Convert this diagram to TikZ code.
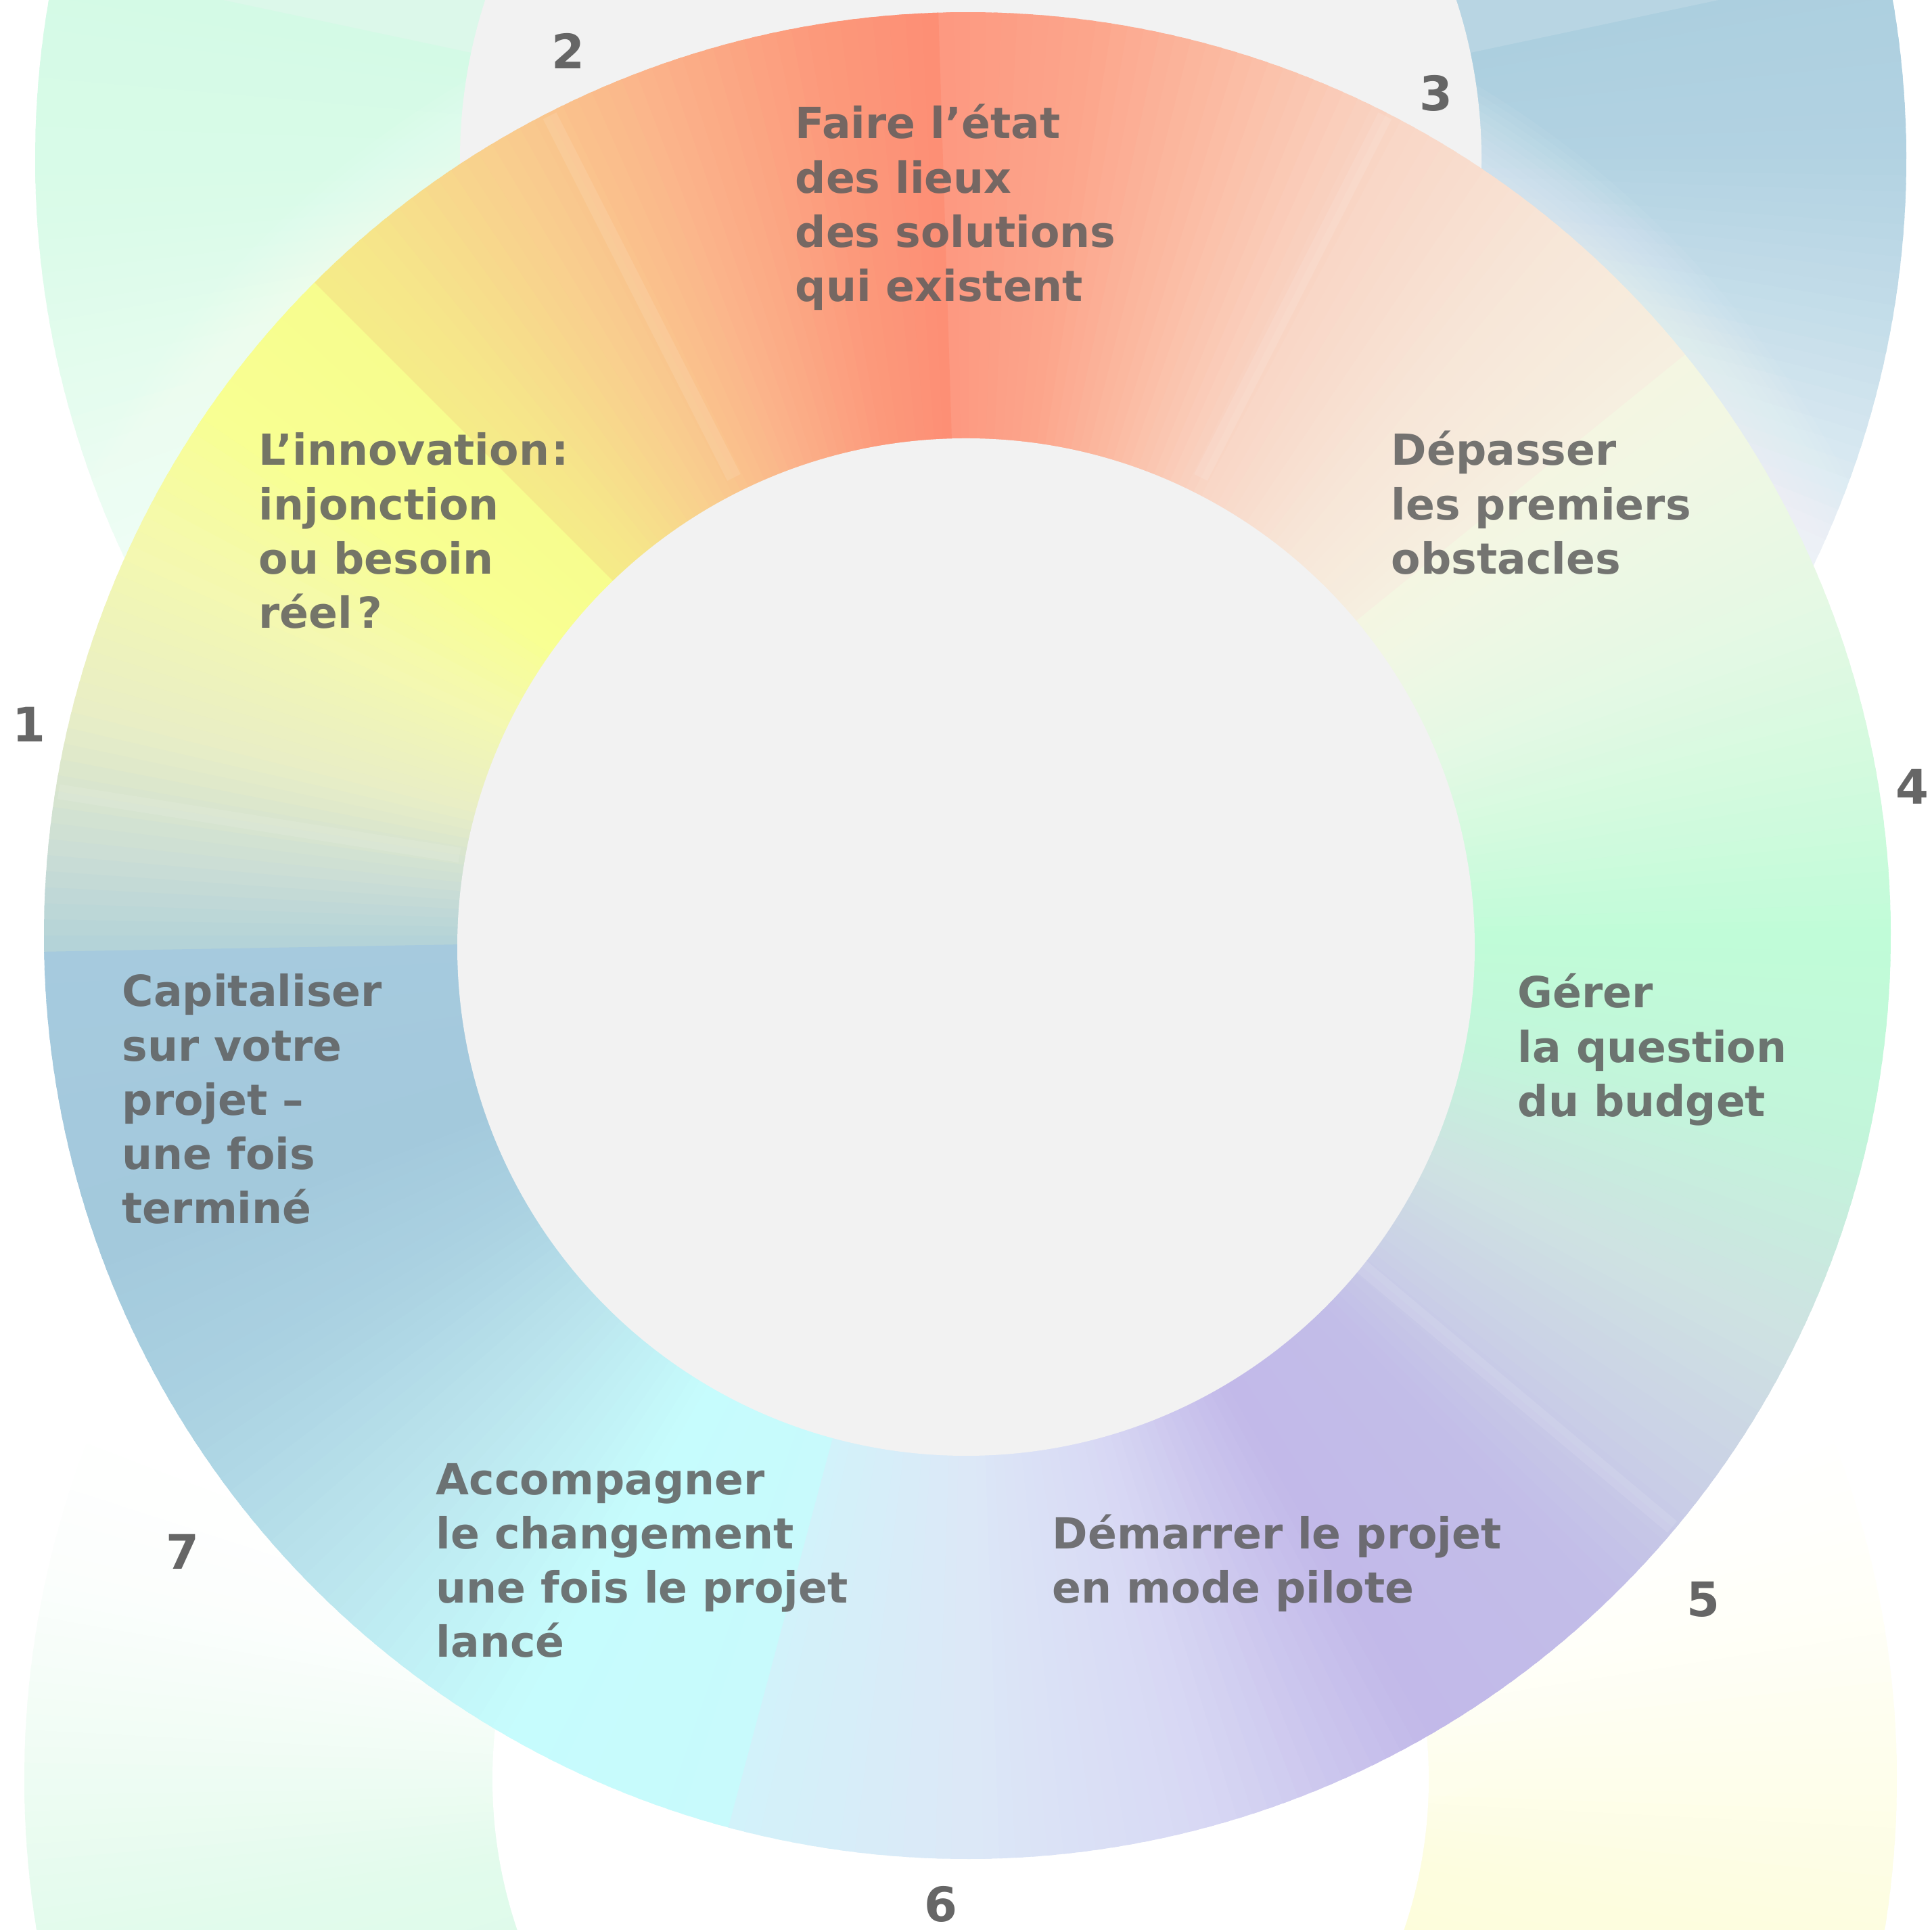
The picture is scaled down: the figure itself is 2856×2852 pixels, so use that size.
\documentclass[tikz,border=0pt]{standalone}
\usepackage{fontspec}
\setmainfont{DejaVu Sans}
% main ring colours
\definecolor{m0}{HTML}{C0FCD8}\definecolor{m1}{HTML}{D2FADE}\definecolor{m2}{HTML}{E3F9E4}
\definecolor{m3}{HTML}{F1F7E4}\definecolor{m4}{HTML}{F4F6E2}\definecolor{m5}{HTML}{F6EFE0}
\definecolor{m6}{HTML}{F7E6D8}\definecolor{m7}{HTML}{F9D6C6}\definecolor{m8}{HTML}{FBBEA6}
\definecolor{m9}{HTML}{FCA68C}\definecolor{m10}{HTML}{FD9880}\definecolor{m11}{HTML}{FD8E74}
\definecolor{m12}{HTML}{FC9A7C}\definecolor{m13}{HTML}{FBB28A}\definecolor{m14}{HTML}{F9CC8E}
\definecolor{m15}{HTML}{F6E48A}\definecolor{m16}{HTML}{F5EC88}\definecolor{m17}{HTML}{F7FD8E}
\definecolor{m18}{HTML}{F8FF92}\definecolor{m19}{HTML}{F4F8B0}\definecolor{m20}{HTML}{E8EEC6}
\definecolor{m21}{HTML}{CADDD6}\definecolor{m22}{HTML}{B2D2D8}\definecolor{m23}{HTML}{A6CADE}
\definecolor{m24}{HTML}{A3C9DC}\definecolor{m25}{HTML}{ABD2E2}\definecolor{m26}{HTML}{BCE6EE}
\definecolor{m27}{HTML}{C6FCFD}\definecolor{m28}{HTML}{C8FAFC}\definecolor{m29}{HTML}{D2F2FA}
\definecolor{m30}{HTML}{DCE8F7}\definecolor{m31}{HTML}{D8D8F4}\definecolor{m32}{HTML}{C2B9E9}
\definecolor{m33}{HTML}{C2BDE8}\definecolor{m34}{HTML}{CBD2E6}\definecolor{m35}{HTML}{CEE2E2}
\definecolor{m36}{HTML}{C2F6DA}
% top ring colours
\definecolor{t1}{HTML}{F2F7FB}\definecolor{t2}{HTML}{DBEAF2}\definecolor{t3}{HTML}{C4DDE9}
\definecolor{t4}{HTML}{B2D2E2}\definecolor{t5}{HTML}{ACCFDF}\definecolor{t6}{HTML}{B8D5E3}
\definecolor{t7}{HTML}{D8F8E8}\definecolor{t8}{HTML}{DCF8EA}\definecolor{t9}{HTML}{D4FAE6}
\definecolor{t10}{HTML}{D9FBE8}\definecolor{t11}{HTML}{E6FCEF}\definecolor{t12}{HTML}{F4FEF8}
% bottom ring colours
\definecolor{b1}{HTML}{FCFCD2}\definecolor{b2}{HTML}{FDFDDF}\definecolor{b3}{HTML}{FEFEEE}
\definecolor{b4}{HTML}{FFFFFA}\definecolor{b5}{HTML}{FBFEFC}\definecolor{b6}{HTML}{EEFCF3}
\definecolor{b7}{HTML}{E2FBEC}\definecolor{b8}{HTML}{D8F9E6}
\definecolor{gbg}{HTML}{F2F2F2}
\definecolor{txt}{HTML}{5E5E5E}
\definecolor{numc}{HTML}{666666}
% conic sector: cx, cy, R, a1, a2, colour at a1, colour at a2
\newcommand{\csect}[7]{%
  \pgfmathtruncatemacro\nn{max(1,round((#5)-(#4)))}%
  \pgfmathsetmacro\dd{((#5)-(#4))/\nn}%
  \foreach \i in {1,...,\nn}{%
    \pgfmathsetmacro\aa{#4+\dd*(\i-1)}%
    \pgfmathsetmacro\bb{#4+\dd*\i+0.5}%
    \pgfmathsetmacro\pp{(\i-0.5)/\nn*100}%
    \fill[#7!\pp!#6] (#1,#2) -- ++(\aa:#3) arc[start angle=\aa, end angle=\bb, radius=#3] -- cycle;
  }}
\newcommand{\lblfont}{\fontsize{18pt}{22.8pt}\selectfont\bfseries}
\newcommand{\numfont}{\fontsize{20pt}{24pt}\selectfont\bfseries}
\tikzset{
  lbl/.style={anchor=base west, inner sep=0pt, text=txt, text opacity=0.85, font=\lblfont},
  num/.style={anchor=base, inner sep=0pt, text=numc, font=\numfont},
  streak/.style={white, opacity=0.1, line width=2.2mm},
  glow/.style={white, opacity=0.05}
}
\begin{document}
\begin{tikzpicture}[x=0.1mm, y=0.1mm]
\useasboundingbox (0,0) rectangle (2856,2852);
\clip (0,0) rectangle (2856,2852);
\fill[white] (0,0) rectangle (2856,2852);
% ---- ring above (partly visible) ----
\foreach \a/\ca/\b/\cb in {-40/white/-30/t1, -30/t1/-20/t2, -20/t2/-10/t3, -10/t3/0/t4, 0/t4/12/t5,
  12/t6/90/t6, 90/t7/168/t8, 168/t9/182/t10, 182/t10/196/t11, 196/t11/210/t12, 210/t12/224/white}
  {\csect{1435}{2617}{1383}{\a}{\b}{\ca}{\cb}}
\fill[gbg] (1435,2617) circle[radius=755];
% ---- ring below (partly visible) ----
\foreach \a/\ca/\b/\cb in {-40/b1/-10/b2, -10/b2/2/b3, 2/b3/14/b4, 14/b4/22/white,
  158/white/168/b5, 168/b5/180/b6, 180/b6/190/b7, 190/b7/220/b8, 220/b8/270/b8, 270/b8/320/b1}
  {\csect{1420}{222}{1384}{\a}{\b}{\ca}{\cb}}
\fill[white] (1420,222) circle[radius=692];
% ---- soft glow round the main ring ----
\foreach \w in {20,18,16,14,12,10,8,6,4,2}
  \draw[glow, line width=\w mm] (1430,1469) circle[radius=1365];
% ---- main ring ----
\foreach \a/\ca/\b/\cb in {0/m0/10/m1, 10/m1/20/m2, 20/m2/33/m3, 33/m3/39/m4, 39/m5/50/m6, 50/m6/62/m7,
  62/m7/72/m8, 72/m8/82/m9, 82/m9/91.8/m10, 91.8/m11/100/m12, 100/m12/110/m13, 110/m13/120/m14,
  120/m14/130/m15, 130/m15/135/m16, 135/m17/145/m18, 145/m18/155/m19, 155/m19/166/m20, 166/m20/175/m21,
  175/m21/181/m22, 181/m23/200/m24, 200/m24/212/m25, 212/m25/226/m26, 226/m26/240/m27, 240/m27/255/m28,
  255/m29/270/m30, 270/m30/285/m31, 285/m31/300/m32, 300/m32/314/m33, 314/m33/324/m34, 324/m34/334/m35,
  334/m35/348/m36, 348/m36/360/m0}
  {\csect{1430}{1469}{1365}{\a}{\b}{\ca}{\cb}}
\foreach \t in {63,117,171,320}
  \draw[streak] (1430,1469) ++(\t:760) -- ++(\t:600);
\fill[gbg] (1428,1452) circle[radius=752];
% ---- texts ----
\node[lbl] (t2) at (1175,2647) {\begin{tabular}[t]{@{}l@{}}Faire l’état\\des lieux\\des solutions\\qui existent\end{tabular}};
\node[lbl] (t1) at (382,2164) {\begin{tabular}[t]{@{}l@{}}L’innovation\kern1pt:\\injonction\\ou besoin\\réel\kern2pt?\end{tabular}};
\node[lbl] (t3) at (2056,2164) {\begin{tabular}[t]{@{}l@{}}Dépasser\\les premiers\\obstacles\end{tabular}};
\node[lbl] (t4) at (2243,1362) {\begin{tabular}[t]{@{}l@{}}Gérer\\la question\\du budget\end{tabular}};
\node[lbl] (t5) at (1555,563) {\begin{tabular}[t]{@{}l@{}}Démarrer le projet\\en mode pilote\end{tabular}};
\node[lbl] (t7) at (180,1364) {\begin{tabular}[t]{@{}l@{}}Capitaliser\\sur votre\\projet –\\une fois\\terminé\end{tabular}};
\node[lbl] (t6) at (644,643) {\begin{tabular}[t]{@{}l@{}}Accompagner\\le changement\\une fois le projet\\lancé\end{tabular}};
% ---- numbers ----
\node[num] (n1) at (43,1755) {1};
\node[num] (n2) at (840,2750) {2};
\node[num] (n3) at (2123,2688) {3};
\node[num] (n4) at (2827,1663) {4};
\node[num] (n5) at (2518,463) {5};
\node[num] (n6) at (1391,12) {6};
\node[num] (n7) at (270,533) {7};
\end{tikzpicture}
\end{document}
